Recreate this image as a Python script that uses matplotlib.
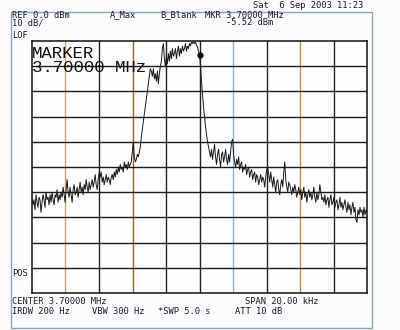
import numpy as np
import matplotlib
matplotlib.use("Agg")
import matplotlib.pyplot as plt
from matplotlib.patches import Rectangle

# ---- data ----
center_mhz = 3.70
span_khz = 20.0
ref_dbm = 0.0
db_per_div = 10
marker_freq = 3.70
marker_level = -5.52

trace_dbm = [
    # lower skirt, left
    -62, -65, -63, -67, -61, -64, -66, -62, -63, -68,
    -64, -61, -63, -66, -60, -63, -62, -65, -61, -64,
    -60, -63, -65, -61, -62, -59, -64, -61, -63, -60,
    -62, -58, -61, -64, -59, -55, -60, -62, -58, -61,
    -64, -59, -57, -61, -60, -58, -62, -59, -56, -60,
    -58, -61, -57, -59, -55, -58, -60, -56, -59, -57,
    -55, -58, -56, -53, -57, -59, -55, -52, -54, -52,
    -56, -54, -57, -55, -53, -56, -54, -55, -57, -54,
    -53, -55, -52, -54, -51, -53, -50, -52, -49, -51,
    -50, -52, -48, -50, -49, -51, -48, -50, -49, -48,
    -44, -40,
    -46, -48, -47, -45, -46, -44, -42,
    # rising edge
    -38, -35, -32, -29, -26, -23, -20, -17, -14, -11,
    -12, -14, -11, -15, -13, -16, -12, -17, -13, -10, -8, -3,
    -1,
    # passband top
    -7, -10, -6, -9, -5, -8, -4, -7, -3, -6,
    -5, -3, -7, -4, -2, -6, -3, -5, -2, -4,
    -3, -1, -4, -2, -3, -1, -2, -0.5, -1, -0.2,
    -1, -0.5, -1.5, -2.5, -4,
    -5.52,
    # falling edge
    -10, -16, -21, -26, -30, -34, -37, -40, -42, -44, -46,
    # upper skirt
    -43, -47, -44, -41, -46, -49, -45, -43, -47, -50,
    -45, -44, -48, -46, -43, -47, -49, -45, -48, -44,
    -40, -39,
    -45, -48, -50, -47, -49, -46, -51, -49, -48, -52,
    -50, -51, -49, -53, -51, -50, -54, -52, -51, -55,
    -53, -52, -56, -53, -54, -57, -55, -53, -56, -54,
    -55, -58, -54, -51, -50,
    -53, -56, -52, -55, -58, -54, -57, -60, -56, -55,
    -59, -61, -57, -55, -58, -52, -48, -55, -58, -60,
    -56, -57, -59, -61, -58, -60, -57, -59, -62, -60,
    -58, -61, -59, -63, -60, -58, -62, -60, -64, -61,
    -59, -62, -60, -63, -61, -58, -62, -64, -60, -63,
    -61, -57, -60, -63, -62, -64, -61, -65, -63, -62,
    -66, -63, -61, -65, -64, -62, -66, -64, -63, -67,
    -65, -62, -66, -64, -67, -65, -63, -66, -68, -64,
    -67, -65, -69, -66, -64, -68, -66, -71, -72, -67,
    -69, -66, -68, -67, -70, -66, -69, -67, -68,
]

header_left = ["REF 0.0 dBm", "10 dB/", "LOF"]
date_text = "Sat  6 Sep 2003 11:23"
marker_label = ["MARKER", "3.70000 MHz"]
footer_1 = ["CENTER 3.70000 MHz", "SPAN 20.00 kHz"]
footer_2 = ["IRDW 200 Hz", "VBW 300 Hz", "*SWP 5.0 s", "ATT 10 dB"]

# ---- figure ----
W, H = 400, 330
fig = plt.figure(figsize=(W / 100, H / 100), dpi=100, facecolor="#fbfcfe")

def fx(px):
    return px / W

def fy(py):
    return 1 - py / H

# outer box
fig.patches.append(Rectangle((fx(11), fy(328)), fx(372) - fx(11), fy(12) - fy(328),
                             transform=fig.transFigure, fill=False,
                             edgecolor="#8fa3b8", linewidth=1.0))

ax = fig.add_axes([fx(32), fy(293), fx(367) - fx(32), fy(41) - fy(293)])
ax.set_facecolor("#fdfdfd")

f0 = center_mhz - span_khz / 2000
f1 = center_mhz + span_khz / 2000
bottom = ref_dbm - 10 * db_per_div
ax.set_xlim(f0, f1)
ax.set_ylim(bottom, ref_dbm)
ax.set_xticks([])
ax.set_yticks([])
for s in ax.spines.values():
    s.set_color("#111111")
    s.set_linewidth(1.1)

vcolors = ["#c9a27a", "#222222", "#a0623a", "#222222", "#222222",
           "#8fb4d6", "#222222", "#c98c55", "#222222"]
xs = np.linspace(f0, f1, 11)[1:-1]
for x, c in zip(xs, vcolors):
    ax.axvline(x, color=c, linewidth=1.0, zorder=1)
for y in np.arange(bottom + db_per_div, ref_dbm, db_per_div):
    ax.axhline(y, color="#1a1a1a", linewidth=1.0, zorder=1)

freqs = np.linspace(f0, f1, len(trace_dbm))
ax.plot(freqs, trace_dbm, color="#1a1a1a", linewidth=0.7, zorder=3)
ax.plot([marker_freq], [marker_level], "o", color="#111111", markersize=3.5, zorder=4)

mono = "DejaVu Sans Mono"
small = 6.3
tc = "#1a1a2a"
fig.text(fx(12), fy(15), header_left[0], fontsize=small, family=mono, color=tc, va="center")
fig.text(fx(12), fy(22.5), header_left[1], fontsize=small, family=mono, color=tc, va="center")
fig.text(fx(12), fy(35), header_left[2], fontsize=small, family=mono, color=tc, va="center")
fig.text(fx(110), fy(15), "A_Max", fontsize=small, family=mono, color=tc, va="center")
fig.text(fx(160), fy(15), "B_Blank", fontsize=small, family=mono, color=tc, va="center")
fig.text(fx(205), fy(15), "MKR 3.70000 MHz", fontsize=small, family=mono, color=tc, va="center")
fig.text(fx(226), fy(22.5), "-5.52 dBm", fontsize=small, family=mono, color=tc, va="center")
fig.text(fx(253), fy(6), date_text, fontsize=small, family=mono, color=tc, va="center")

fig.text(fx(32), fy(54), marker_label[0], fontsize=12.5, family="Liberation Mono",
         color="#111111", va="center", zorder=5)
fig.text(fx(32), fy(68), marker_label[1], fontsize=12.5, family="Liberation Mono",
         color="#111111", va="center", zorder=5)

fig.text(fx(12), fy(274), "POS", fontsize=small, family=mono, color=tc, va="center")
fig.text(fx(12), fy(302), footer_1[0], fontsize=small, family=mono, color=tc, va="center")
fig.text(fx(245), fy(302), footer_1[1], fontsize=small, family=mono, color=tc, va="center")
fig.text(fx(12), fy(312), footer_2[0], fontsize=small, family=mono, color=tc, va="center")
fig.text(fx(92), fy(312), footer_2[1], fontsize=small, family=mono, color=tc, va="center")
fig.text(fx(158), fy(312), footer_2[2], fontsize=small, family=mono, color=tc, va="center")
fig.text(fx(235), fy(312), footer_2[3], fontsize=small, family=mono, color=tc, va="center")

fig.savefig("out.png", dpi=100, facecolor=fig.get_facecolor())
